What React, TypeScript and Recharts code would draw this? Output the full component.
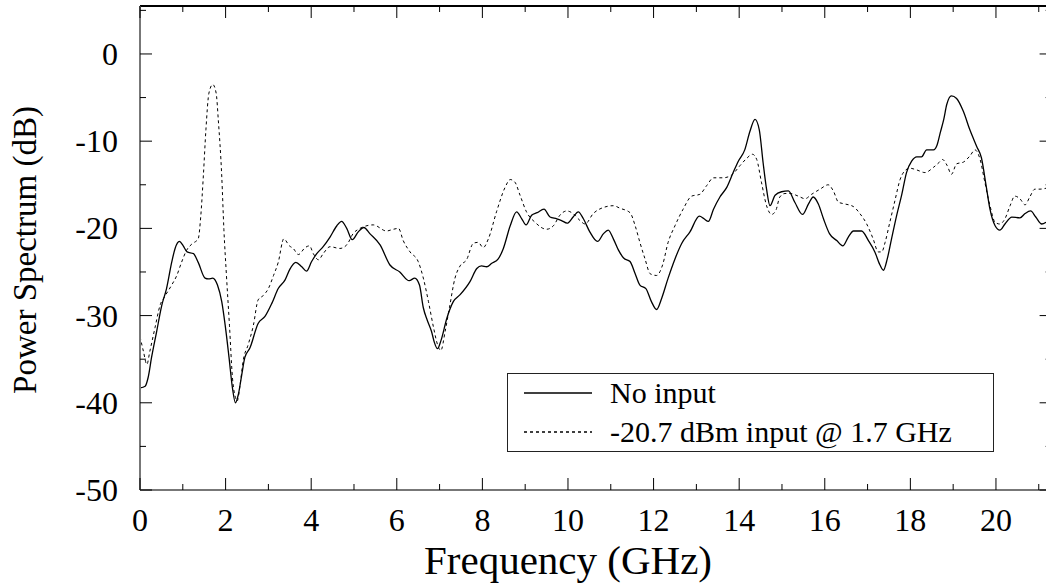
import { LineChart, Line, XAxis, YAxis, Legend, Label, ReferenceLine } from 'recharts';

// Frequency (GHz) / power (dB), "No input" trace
const noInputFreq = [
  0, 0.12, 0.19, 0.27, 0.39, 0.51, 0.62, 0.74, 0.82, 0.92, 1.01, 1.1, 1.25, 1.36, 1.52, 1.6, 1.7, 1.81, 1.91, 1.99,
  2.08, 2.16, 2.23, 2.3, 2.38, 2.45, 2.57, 2.76, 2.92, 3.08, 3.23, 3.39, 3.5, 3.64, 3.78, 3.89, 4.01, 4.13, 4.28, 4.44,
  4.6, 4.71, 4.83, 4.96, 5.1, 5.23, 5.37, 5.61, 5.84, 6.07, 6.29, 6.42, 6.53, 6.62, 6.71, 6.81, 6.88, 6.95, 7.03, 7.17,
  7.32, 7.48, 7.71, 7.87, 7.98, 8.1, 8.22, 8.37, 8.49, 8.65, 8.8, 8.92, 9.02, 9.15, 9.28, 9.44, 9.58, 9.74, 9.85, 9.98,
  10.12, 10.24, 10.36, 10.51, 10.69, 10.83, 10.94, 11.06, 11.18, 11.3, 11.45, 11.57, 11.68, 11.82, 11.95, 12.07, 12.19,
  12.34, 12.5, 12.66, 12.85, 13.07, 13.18, 13.28, 13.4, 13.55, 13.71, 13.86, 13.98, 14.13, 14.25, 14.37, 14.47, 14.56,
  14.64, 14.72, 14.84, 14.99, 15.15, 15.3, 15.48, 15.62, 15.73, 15.85, 15.97, 16.11, 16.28, 16.42, 16.55, 16.67, 16.86,
  17.02, 17.17, 17.29, 17.37, 17.46, 17.56, 17.68, 17.8, 17.91, 18.03, 18.15, 18.26, 18.38, 18.54, 18.62, 18.7, 18.78,
  18.85, 18.96, 19.08, 19.24, 19.39, 19.55, 19.66, 19.77, 19.86, 19.98, 20.09, 20.21, 20.37, 20.56, 20.68, 20.81, 20.93,
  21.07, 21.17,
];
const noInputPower = [
  -38.3, -38.1, -37.1, -34.8, -31.8, -28.8, -26.9, -23.9, -22.3, -21.5, -22.0, -22.7, -22.9, -23.9, -25.7, -25.8, -25.7,
  -26.5, -28.4, -31.1, -34.8, -38.3, -40.0, -39.0, -36.7, -34.8, -33.7, -30.9, -30.1, -28.6, -26.9, -25.9, -24.7, -23.9,
  -24.4, -24.9, -23.8, -22.9, -22.1, -21.0, -19.7, -19.2, -20.0, -21.3, -20.4, -19.9, -20.6, -21.9, -24.2, -25.0, -26.0,
  -25.7, -26.5, -29.1, -30.5, -31.8, -33.1, -33.8, -32.9, -30.3, -28.4, -27.6, -26.1, -24.6, -24.3, -24.4, -24.0, -23.5,
  -22.3, -19.7, -18.1, -18.9, -19.6, -18.5, -18.2, -17.8, -18.7, -18.9, -19.1, -19.4, -18.7, -18.1, -18.9, -20.4, -21.5,
  -20.6, -20.2, -21.2, -22.5, -23.4, -23.8, -25.2, -26.5, -26.9, -28.4, -29.3, -28.0, -25.7, -23.5, -21.7, -20.4, -18.6,
  -18.9, -19.2, -17.8, -16.4, -15.3, -13.6, -12.3, -11.0, -8.9, -7.5, -8.7, -12.5, -15.5, -17.4, -16.2, -15.8, -15.7,
  -17.0, -18.4, -17.2, -16.4, -17.2, -18.9, -20.6, -21.4, -22.0, -21.0, -20.3, -20.3, -21.4, -22.7, -24.2, -24.8, -23.5,
  -21.2, -18.5, -16.1, -13.6, -12.3, -11.8, -11.8, -11.0, -11.0, -10.5, -9.0, -7.5, -5.8, -4.8, -5.1, -6.6, -8.7, -10.6,
  -11.9, -15.1, -17.8, -19.7, -20.2, -19.5, -18.7, -18.8, -18.3, -18.0, -18.7, -19.5, -19.3,
];

// "-20.7 dBm input @ 1.7 GHz" trace
const withInputFreq = [
  0, 0.08, 0.16, 0.23, 0.35, 0.47, 0.58, 0.74, 0.86, 0.97, 1.09, 1.21, 1.36, 1.42, 1.48, 1.54, 1.61, 1.7, 1.78, 1.83,
  1.91, 1.96, 2.02, 2.09, 2.16, 2.23, 2.27, 2.34, 2.41, 2.53, 2.65, 2.76, 2.88, 3.0, 3.12, 3.23, 3.36, 3.49, 3.58, 3.7,
  3.86, 3.96, 4.05, 4.17, 4.28, 4.44, 4.67, 4.83, 4.98, 5.14, 5.45, 5.76, 5.92, 6.04, 6.15, 6.31, 6.5, 6.62, 6.74, 6.86,
  6.95, 7.03, 7.13, 7.23, 7.36, 7.48, 7.63, 7.79, 7.9, 8.02, 8.14, 8.33, 8.53, 8.65, 8.76, 8.88, 9.03, 9.23, 9.5, 9.66,
  9.81, 9.97, 10.12, 10.28, 10.4, 10.59, 10.83, 11.06, 11.22, 11.45, 11.57, 11.68, 11.8, 11.92, 12.07, 12.21, 12.34,
  12.5, 12.69, 12.89, 13.08, 13.24, 13.4, 13.63, 13.82, 14.02, 14.17, 14.31, 14.41, 14.52, 14.64, 14.76, 14.86, 14.95,
  15.07, 15.19, 15.38, 15.54, 15.69, 15.89, 16.08, 16.2, 16.32, 16.47, 16.67, 16.82, 16.98, 17.13, 17.25, 17.33, 17.41,
  17.52, 17.64, 17.76, 17.87, 17.99, 18.15, 18.34, 18.54, 18.68, 18.75, 18.86, 18.96, 19.08, 19.24, 19.39, 19.51, 19.63,
  19.74, 19.86, 19.98, 20.09, 20.21, 20.33, 20.44, 20.56, 20.68, 20.79, 20.91, 21.03, 21.17,
];
const withInputPower = [
  -32.4, -34.1, -35.6, -34.1, -31.4, -28.8, -27.8, -26.5, -25.4, -23.9, -22.5, -21.8, -21.2, -18.6, -14.0, -8.7, -4.5,
  -3.5, -4.5, -7.6, -14.0, -20.1, -25.4, -31.1, -37.1, -39.4, -39.8, -37.9, -35.2, -33.3, -31.1, -28.2, -27.7, -26.9,
  -25.4, -23.9, -21.2, -22.0, -22.3, -23.0, -22.2, -22.0, -22.9, -23.6, -22.9, -22.1, -22.3, -21.9, -20.6, -20.0, -19.6,
  -20.3, -20.1, -20.0, -21.4, -22.7, -23.8, -25.7, -28.4, -31.4, -33.3, -34.0, -31.8, -29.1, -25.7, -24.3, -23.6, -21.7,
  -21.6, -22.2, -21.2, -18.1, -15.3, -14.4, -14.7, -16.2, -18.1, -19.3, -20.1, -19.7, -18.5, -18.0, -18.3, -19.1, -19.5,
  -18.3, -17.6, -17.4, -17.7, -18.2, -19.7, -21.6, -23.5, -25.2, -25.4, -24.2, -21.6, -19.7, -17.8, -16.3, -16.1, -15.1,
  -14.2, -14.2, -13.9, -12.8, -12.0, -11.5, -12.1, -14.7, -17.4, -18.4, -17.9, -16.4, -16.0, -16.0, -16.3, -16.6, -16.1,
  -15.5, -15.0, -15.7, -17.0, -17.2, -17.5, -18.3, -19.5, -21.2, -22.7, -22.7, -21.6, -19.3, -16.8, -14.4, -13.4, -13.1,
  -13.3, -13.6, -13.0, -12.4, -12.1, -12.8, -13.8, -12.6, -12.4, -11.7, -11.0, -12.1, -14.7, -17.4, -19.3, -19.5, -18.9,
  -17.4, -16.3, -16.6, -17.3, -16.4, -15.5, -15.5, -15.4,
];

const freqTicks = [0, 1, 2, 3, 4, 5, 6, 7, 8, 9, 10, 11, 12, 13, 14, 15, 16, 17, 18, 19, 20, 21];
const powerTicks = [-50, -45, -40, -35, -30, -25, -20, -15, -10, -5, 0, 5];

const NO_INPUT = 'No input';
const WITH_INPUT = '-20.7 dBm input @ 1.7 GHz';
const seriesOrder = [NO_INPUT, WITH_INPUT];
const seriesDash: Record<string, string | undefined> = { [NO_INPUT]: undefined, [WITH_INPUT]: '3 3' };

const FONT = '"Liberation Serif", "Times New Roman", serif';
const FREQ_DOMAIN: [number, number] = [0, 21.3];
const POWER_DOMAIN: [number, number] = [-50, 5.5];

// chart box; the plot runs a little past the right edge of the page, like the original
const CHART_W = 1060;
const CHART_H = 586;
const MARGIN = { top: 6, right: 8.4, bottom: 0, left: 0 };
const Y_AXIS_W = 140;
const X_AXIS_H = 96;
const PLOT_W = CHART_W - MARGIN.right - Y_AXIS_W;
const PLOT_H = CHART_H - MARGIN.top - X_AXIS_H;

const toRows = (freq: number[], power: number[]) => freq.map((f, i) => ({ freq: f, power: power[i] }));
const noInputData = toRows(noInputFreq, noInputPower);
const withInputData = toRows(withInputFreq, withInputPower);

// inward ticks on bottom and (mirrored) top edge
const FreqTick = ({ x, y, payload }: any) => {
  const major = payload.value % 2 === 0;
  const len = major ? 12 : 6;
  const top = y - PLOT_H;
  return (
    <g>
      <line x1={x} x2={x} y1={y} y2={y - len} stroke="#000" />
      <line x1={x} x2={x} y1={top} y2={top + len} stroke="#000" />
      {major && (
        <text x={x} y={y + 41} textAnchor="middle" fontFamily={FONT} fontSize={32} fill="#000">
          {payload.value}
        </text>
      )}
    </g>
  );
};

// inward ticks on left and (mirrored) right edge
const PowerTick = ({ x, y, payload }: any) => {
  const major = payload.value % 10 === 0;
  const len = major ? 12 : 6;
  const right = x + PLOT_W;
  return (
    <g>
      <line x1={x} x2={x + len} y1={y} y2={y} stroke="#000" />
      <line x1={right} x2={right - len} y1={y} y2={y} stroke="#000" />
      {major && (
        <text x={x - 22} y={y + 11} textAnchor="end" fontFamily={FONT} fontSize={32} fill="#000">
          {payload.value}
        </text>
      )}
    </g>
  );
};

const renderLegend = () => (
  <div style={{ width: 487, height: 79, border: '1.5px solid #222', boxSizing: 'border-box', background: '#fff' }}>
    <svg width={485} height={76} style={{ display: 'block' }}>
      {seriesOrder.map((name, i) => {
        const cy = 19 + i * 39;
        return (
          <g key={name}>
            <line x1={16} x2={84} y1={cy} y2={cy} stroke="#000" strokeWidth={1.3} strokeDasharray={seriesDash[name]} />
            <text x={102} y={cy + 10} fontFamily={FONT} fontSize={30} fill="#000">
              {name}
            </text>
          </g>
        );
      })}
    </svg>
  </div>
);

const App = () => {
  return (
    <div style={{ position: 'absolute', left: 0, top: 0, width: 1046, height: 586, overflow: 'hidden', background: '#fff' }}>
      <LineChart width={CHART_W} height={CHART_H} margin={MARGIN}>
        <XAxis
          dataKey="freq"
          type="number"
          domain={FREQ_DOMAIN}
          ticks={freqTicks}
          interval={0}
          height={X_AXIS_H}
          tickSize={0}
          tickMargin={0}
          tickLine={false}
          tick={<FreqTick />}
          axisLine={{ stroke: '#777', strokeWidth: 2 }}
          allowDataOverflow
        >
          <Label
            content={() => (
              <text x={568} y={574} textAnchor="middle" fontFamily={FONT} fontSize={41} fill="#000">
                Frequency (GHz)
              </text>
            )}
          />
        </XAxis>
        <YAxis
          type="number"
          domain={POWER_DOMAIN}
          ticks={powerTicks}
          interval={0}
          width={Y_AXIS_W}
          tickSize={0}
          tickMargin={0}
          tickLine={false}
          tick={<PowerTick />}
          axisLine={{ stroke: '#777', strokeWidth: 2 }}
          allowDataOverflow
        >
          <Label
            content={() => (
              <text transform="translate(36,250) rotate(-90)" textAnchor="middle" fontFamily={FONT} fontSize={33} fill="#000">
                Power Spectrum (dB)
              </text>
            )}
          />
        </YAxis>
        {/* top and right edges of the frame */}
        <ReferenceLine y={POWER_DOMAIN[1]} stroke="#000" strokeWidth={2} ifOverflow="visible" />
        <ReferenceLine x={FREQ_DOMAIN[1]} stroke="#000" strokeWidth={2} ifOverflow="visible" />
        <Legend
          layout="vertical"
          align="center"
          verticalAlign="middle"
          content={renderLegend}
          wrapperStyle={{ left: 507, top: 373, width: 487, height: 79 }}
        />
        <Line
          data={noInputData}
          dataKey="power"
          name={NO_INPUT}
          type="monotone"
          stroke="#000"
          strokeWidth={1.3}
          dot={false}
          isAnimationActive={false}
        />
        <Line
          data={withInputData}
          dataKey="power"
          name={WITH_INPUT}
          type="monotone"
          stroke="#000"
          strokeWidth={1}
          strokeDasharray="3 3"
          dot={false}
          isAnimationActive={false}
        />
      </LineChart>
    </div>
  );
};

export default App;
